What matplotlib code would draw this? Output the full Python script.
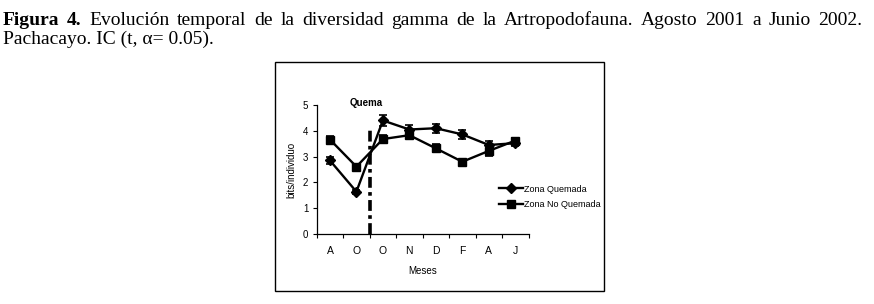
import numpy as np
import matplotlib.pyplot as plt
from matplotlib.patches import Rectangle
from matplotlib.lines import Line2D

# datos
meses = ['A', 'O', 'O', 'N', 'D', 'F', 'A', 'J']
quemada = [2.85, 1.64, 4.4, 4.05, 4.1, 3.86, 3.45, 3.52]
quemada_ic = [0.12, 0.08, 0.2, 0.16, 0.18, 0.18, 0.14, 0.1]
no_quemada = [3.66, 2.61, 3.68, 3.83, 3.32, 2.8, 3.22, 3.62]
no_quemada_ic = [0.12, 0.1, 0.17, 0.12, 0.15, 0.08, 0.2, 0.1]
quema_x = 1.5
quema_y = 4.1

titulo_1 = ['Figura', '4.', 'Evolución', 'temporal', 'de', 'la', 'diversidad', 'gamma', 'de', 'la',
            'Artropodofauna.', 'Agosto', '2001', 'a', 'Junio', '2002.']
titulo_2 = 'Pachacayo. IC (t, α= 0.05).'

plt.rcParams['font.family'] = ['Liberation Sans', 'DejaVu Sans']

fig = plt.figure(figsize=(8.74, 3.04), dpi=100)
W, H = 874.0, 304.0

# marco alrededor del grafico
fig.patches.append(Rectangle((275 / W, 1 - 291 / H), 329 / W, 229 / H, transform=fig.transFigure,
                             fill=False, edgecolor='black', linewidth=1.0))

# titulo justificado en la primera linea
renderer = fig.canvas.get_renderer()
objs = []
for i, w in enumerate(titulo_1):
    t = fig.text(0, 1 - 25 / H, w, fontsize=14, family='Liberation Serif',
                 fontweight='bold' if i < 2 else 'normal', va='baseline')
    objs.append(t)
widths = [o.get_window_extent(renderer).width for o in objs]
x0, x1 = 3.0, 862.0
gap = (x1 - x0 - sum(widths)) / (len(objs) - 1)
x = x0
for o, w in zip(objs, widths):
    o.set_x(x / W)
    x += w + gap
fig.text(3 / W, 1 - 44 / H, titulo_2, fontsize=14, family='Liberation Serif', va='baseline')

ax = fig.add_axes([316.7 / W, 1 - 234 / H, 211.8 / W, 129 / H])
xs = np.arange(len(meses))

ax.errorbar(xs, quemada, yerr=quemada_ic, color='black', marker='D', markersize=5.5,
            linewidth=1.7, elinewidth=1.2, capsize=3, capthick=1.2, label='Zona Quemada')
ax.errorbar(xs, no_quemada, yerr=no_quemada_ic, color='black', marker='s', markersize=6,
            linewidth=1.7, elinewidth=1.2, capsize=3, capthick=1.2, label='Zona No Quemada')

ax.plot([quema_x, quema_x], [0, quema_y], color='black', linewidth=2.6,
        linestyle=(0, (3, 1.2, 1, 1.2)), clip_on=False)
ax.text(1.36, 5.08, 'Quema', fontsize=7, fontweight='bold', ha='center', va='center', clip_on=False)

ax.set_xlim(-0.5, len(meses) - 0.5)
ax.set_ylim(0, 5)
ax.set_xticks(xs)
ax.set_xticklabels(meses, fontsize=7.5)
ax.set_xticks(np.arange(-0.5, len(meses)), minor=True)
ax.tick_params(axis='x', which='major', length=0, pad=9)
ax.tick_params(axis='x', which='minor', length=3, direction='out', width=0.8)
ax.set_yticks(range(6))
ax.tick_params(axis='y', labelsize=7, length=3, width=0.8, pad=3)
ax.set_xlabel('Meses', fontsize=7, labelpad=7)
ax.set_ylabel('bits/individuo', fontsize=7, labelpad=5)
for s in ['top', 'right']:
    ax.spines[s].set_visible(False)
for s in ['left', 'bottom']:
    ax.spines[s].set_linewidth(0.9)

handles = [Line2D([], [], color='black', marker='D', markersize=5, linewidth=1.7),
           Line2D([], [], color='black', marker='s', markersize=5.5, linewidth=1.7)]
fig.legend(handles, ['Zona Quemada', 'Zona No Quemada'], loc='center left',
           bbox_to_anchor=(491 / W, 1 - 197 / H), frameon=False, fontsize=6.5,
           handlelength=2.6, handletextpad=0.2, labelspacing=0.75)

fig.savefig('out.png', dpi=100)
